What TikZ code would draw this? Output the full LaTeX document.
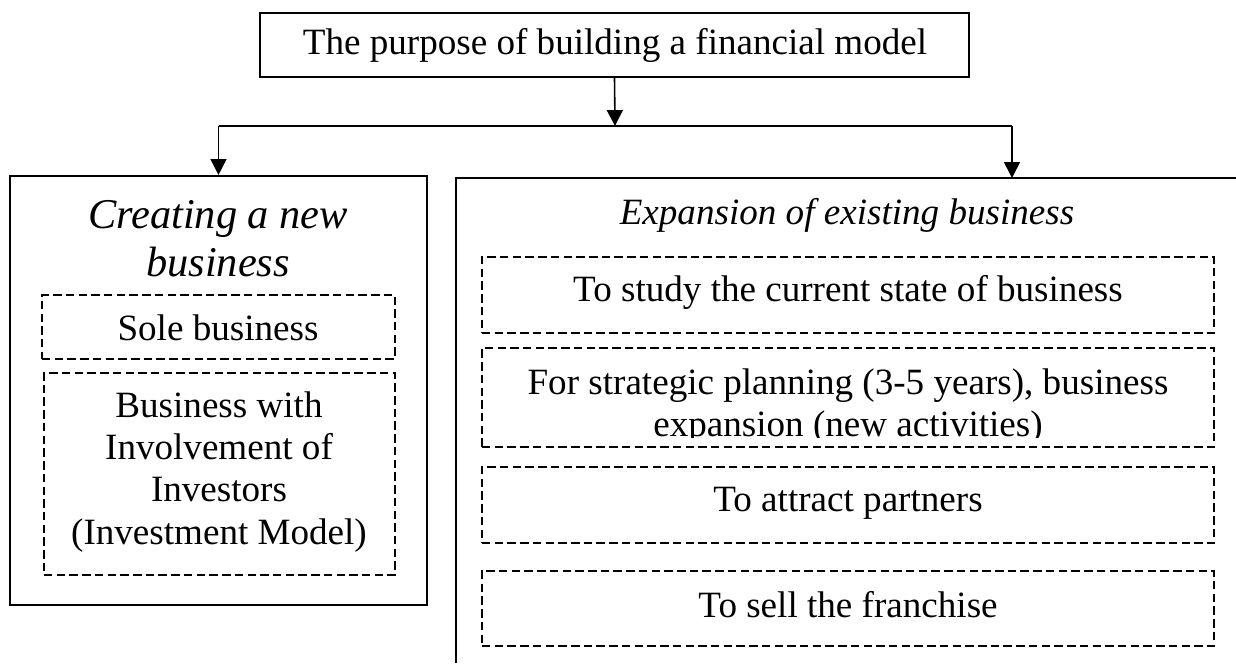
\documentclass[tikz,border=0pt]{standalone}
\usepackage{fontspec}
\setmainfont{Liberation Serif}
\usetikzlibrary{fit,arrows.meta}
\begin{document}
\begin{tikzpicture}[x=0.3774pt,y=-0.3774pt,
  solidbox/.style={draw, line width=0.8pt, inner sep=0pt},
  dashbox/.style={draw, line width=1pt, dash pattern=on 3.2pt off 1.6pt, inner sep=0pt},
  txt/.style={font=\fontsize{14}{15.9}\selectfont, align=center},
  conn/.style={line width=0.8pt},
  arr/.style={line width=0.6pt, -{Triangle[width=6pt,length=6pt]}}]
\useasboundingbox (0,0) rectangle (1236,663);

% top box
\node[solidbox, fit={(260,13) (969,77)}] (top) {};
\node[txt] (toptext) at (615,45) {The purpose of building a financial model};

% left container
\node[solidbox, fit={(10,176) (427,605)}] (left) {};
\node[font=\itshape\fontsize{16}{18.1}\selectfont, align=center] (ltitle) at (218,239) {Creating a new\\business};
\node[dashbox, fit={(42,295) (395,359)}] (sole) {};
\node[txt] (soletext) at (218,328) {Sole business};
\node[dashbox, fit={(44,373) (395,575)}] (inv) {};
\node[txt] (invtext) at (219,472) {Business with\\Involvement of\\Investors\\(Investment Model)};

% right container (open to the right and bottom)
\coordinate (rbl) at (456,663);
\coordinate (rtl) at (456,178);
\coordinate (rtr) at (1236,178);
\draw[line width=0.8pt] (rbl) -- (rtl) -- (rtr);
\node[font=\itshape\fontsize{14}{15.9}\selectfont] (rtitle) at (847,215) {Expansion of existing business};

\node[dashbox, fit={(482,257) (1214,333)}] (d1) {};
\node[txt] (d1t) at (848,292) {To study the current state of business};
\node[dashbox, fit={(482,348) (1214,447)}] (d2) {};
\begin{scope}
  \clip (482,348) rectangle (1214,437);
  \node[txt] (d2t) at (848,407) {For strategic planning (3-5 years), business\\expansion (new activities)};
\end{scope}
\node[dashbox, fit={(482,467) (1214,543)}] (d3) {};
\node[txt] (d3t) at (848,503) {To attract partners};
\node[dashbox, fit={(482,571) (1214,646)}] (d4) {};
\node[txt] (d4t) at (848,605) {To sell the franchise};

% connectors
\coordinate (split) at (615,126);
\coordinate (hl) at (218.5,126);
\coordinate (hr) at (1012,126);
\coordinate (rtop) at (1012,178);
\draw[conn] (hl) -- (hr);
\draw[arr] (top.south) -- (split);
\draw[arr] (hl) -- (left.north);
\draw[arr] (hr) -- (rtop);
\end{tikzpicture}
\end{document}
